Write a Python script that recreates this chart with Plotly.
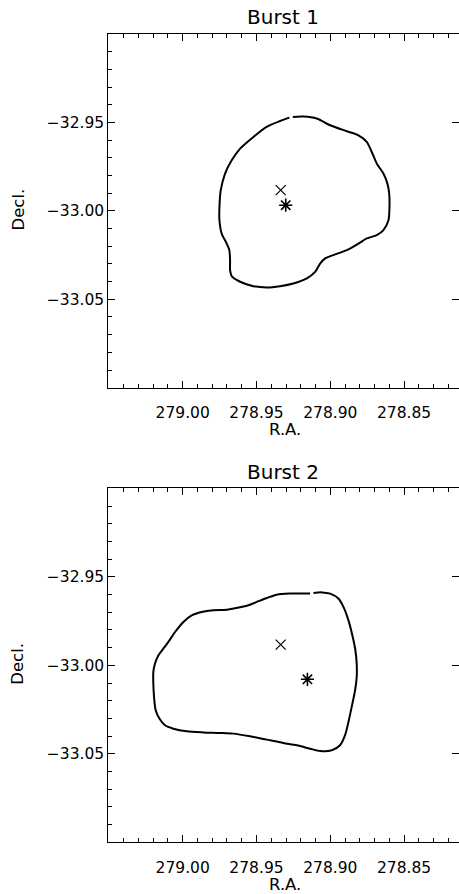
import plotly.graph_objects as go

# ---------------- data ----------------
burst1_ra = [278.9254, 278.9182, 278.9092, 278.9001, 278.8888, 278.8809, 278.8753, 278.8719,
             278.8685, 278.8640, 278.8613, 278.8601, 278.8599, 278.8606, 278.8640, 278.8685,
             278.8753, 278.8809, 278.8888, 278.8979, 278.9035, 278.9069, 278.9103, 278.9159,
             278.9250, 278.9340, 278.9431, 278.9521, 278.9611, 278.9668, 278.9679, 278.9679,
             278.9684, 278.9702, 278.9736, 278.9751, 278.9751, 278.9742, 278.9713, 278.9668,
             278.9611, 278.9521, 278.9431, 278.9340, 278.9277]
burst1_dec = [-32.9469, -32.9467, -32.9478, -32.9516, -32.9550, -32.9573, -32.9610, -32.9667,
              -32.9733, -32.9789, -32.9846, -32.9902, -32.9977, -33.0053, -33.0109, -33.0137,
              -33.0156, -33.0185, -33.0222, -33.0250, -33.0269, -33.0298, -33.0345, -33.0382,
              -33.0411, -33.0426, -33.0433, -33.0426, -33.0401, -33.0369, -33.0335, -33.0279,
              -33.0222, -33.0185, -33.0128, -33.0053, -32.9977, -32.9883, -32.9789, -32.9714,
              -32.9648, -32.9582, -32.9525, -32.9492, -32.9473]

burst2_ra = [278.9114, 278.9058, 278.9001, 278.8945, 278.8911, 278.8877, 278.8848, 278.8830,
             278.8821, 278.8821, 278.8832, 278.8855, 278.8877, 278.8900, 278.8934, 278.8990,
             278.9069, 278.9137, 278.9227, 278.9318, 278.9431, 278.9544, 278.9657, 278.9747,
             278.9860, 278.9973, 279.0063, 279.0120, 279.0158, 279.0183, 279.0194, 279.0199,
             279.0199, 279.0188, 279.0165, 279.0131, 279.0097, 279.0052, 278.9995, 278.9939,
             278.9871, 278.9792, 278.9702, 278.9623, 278.9555, 278.9498, 278.9431, 278.9363,
             278.9272, 278.9137]
burst2_dec = [-32.9591, -32.9588, -32.9595, -32.9623, -32.9670, -32.9746, -32.9840, -32.9915,
              -32.9991, -33.0066, -33.0141, -33.0235, -33.0320, -33.0395, -33.0452, -33.0480,
              -33.0484, -33.0471, -33.0452, -33.0439, -33.0420, -33.0401, -33.0386, -33.0382,
              -33.0379, -33.0373, -33.0358, -33.0339, -33.0301, -33.0254, -33.0179, -33.0104,
              -33.0038, -32.9991, -32.9944, -32.9906, -32.9868, -32.9812, -32.9755, -32.9718,
              -32.9699, -32.9689, -32.9686, -32.9674, -32.9661, -32.9642, -32.9620, -32.9601,
              -32.9595, -32.9595]

cross_ra = [278.9336, 278.9336]
cross_dec = [-32.9883, -32.9883]
star_ra = [278.9302, 278.9155]
star_dec = [-32.9968, -33.0079]

titles = ["Burst 1", "Burst 2"]
x_ticks = [279.00, 278.95, 278.90, 278.85]
y_ticks = [-32.95, -33.00, -33.05]
x_range = [279.0504, 278.8128]
y_range = [-33.10, -32.90]

# ---------------- layout helpers ----------------
W, H = 459, 894
FONT = "DejaVu Sans"


def fx(px):
    return px / W


def fy(py):
    return 1 - py / H


panels = [
    dict(ra=burst1_ra, dec=burst1_dec, top=34.0, bottom=387.7),
    dict(ra=burst2_ra, dec=burst2_dec, top=488.3, bottom=842.3),
]

fig = go.Figure()
annotations = []
layout = {}

for i, p in enumerate(panels):
    n = i + 1
    xa = "x" if n == 1 else f"x{n}"
    ya = "y" if n == 1 else f"y{n}"
    yr = f"y{n + 2}"  # right-side tick-only axis
    fig.add_trace(go.Scatter(x=p["ra"], y=p["dec"], mode="lines",
                             line=dict(color="black", width=2, shape="spline", smoothing=0.8),
                             xaxis=xa, yaxis=ya, showlegend=False, hoverinfo="skip"))
    fig.add_trace(go.Scatter(x=[cross_ra[i]], y=[cross_dec[i]], mode="markers",
                             marker=dict(symbol="x-thin-open", size=10, color="black",
                                         line=dict(color="black", width=1.2)),
                             xaxis=xa, yaxis=ya, showlegend=False, hoverinfo="skip"))
    fig.add_trace(go.Scatter(x=[star_ra[i]], y=[star_dec[i]], mode="markers",
                             marker=dict(symbol="asterisk-open", size=11, color="black",
                                         line=dict(color="black", width=1.6)),
                             xaxis=xa, yaxis=ya, showlegend=False, hoverinfo="skip"))
    fig.add_trace(go.Scatter(x=[], y=[], xaxis=xa, yaxis=yr, showlegend=False,
                             hoverinfo="skip"))

    dom_y = [fy(p["bottom"]), fy(p["top"])]
    xkey = "xaxis" if n == 1 else f"xaxis{n}"
    ykey = "yaxis" if n == 1 else f"yaxis{n}"
    layout[xkey] = dict(
        domain=[fx(108.3), 1.0], range=x_range, anchor=ya,
        showline=True, linecolor="black", linewidth=1, mirror="ticks",
        ticks="inside", ticklen=7, tickwidth=1, tickcolor="black",
        tickmode="array", tickvals=x_ticks, tickformat=".2f",
        minor=dict(ticks="inside", ticklen=4, tickcolor="black", tickwidth=1,
                   tickmode="linear", tick0=279.0, dtick=0.01, showgrid=False),
        showgrid=False, zeroline=False,
        tickfont=dict(family=FONT, size=15.5, color="black"), ticklabelstandoff=11,
    )
    layout[ykey] = dict(
        domain=dom_y, range=y_range, anchor=xa,
        showline=True, linecolor="black", linewidth=1, mirror=False,
        ticks="inside", ticklen=7, tickwidth=1, tickcolor="black",
        tickmode="array", tickvals=y_ticks, tickformat=".2f",
        minor=dict(ticks="inside", ticklen=4, tickcolor="black", tickwidth=1,
                   tickmode="linear", tick0=-33.0, dtick=0.01, showgrid=False),
        showgrid=False, zeroline=False,
        tickfont=dict(family=FONT, size=15.5, color="black"), ticklabelstandoff=0,
    )
    layout[f"yaxis{n + 2}"] = dict(
        overlaying=ya, side="right", anchor=xa, range=y_range,
        showline=False, ticks="inside", ticklen=7, tickwidth=1, tickcolor="black",
        tickmode="array", tickvals=y_ticks, showticklabels=False,
        showgrid=False, zeroline=False,
    )

    off = p["top"] - 34.0
    annotations.append(dict(text=titles[i], x=fx(283.3), y=fy(17.5 + off), xref="paper",
                            yref="paper", xanchor="center", yanchor="middle",
                            showarrow=False, font=dict(family=FONT, size=20, color="black")))
    annotations.append(dict(text="R.A.", x=fx(285), y=fy(430 + off), xref="paper",
                            yref="paper", xanchor="center", yanchor="middle",
                            showarrow=False, font=dict(family=FONT, size=16.5, color="black")))
    annotations.append(dict(text="Decl.", x=fx(17.5), y=fy(210 + off), xref="paper",
                            yref="paper", xanchor="center", yanchor="middle", textangle=-90,
                            showarrow=False, font=dict(family=FONT, size=16.5, color="black")))

fig.update_layout(
    width=W, height=H,
    margin=dict(l=0, r=0, t=0, b=0),
    paper_bgcolor="white", plot_bgcolor="white",
    annotations=annotations, showlegend=False,
    **layout,
)

fig.write_html("out.html",
               config={"displayModeBar": False, "staticPlot": True},
               post_script="document.body.style.margin='0px';"
                           "document.body.style.overflow='hidden';")
